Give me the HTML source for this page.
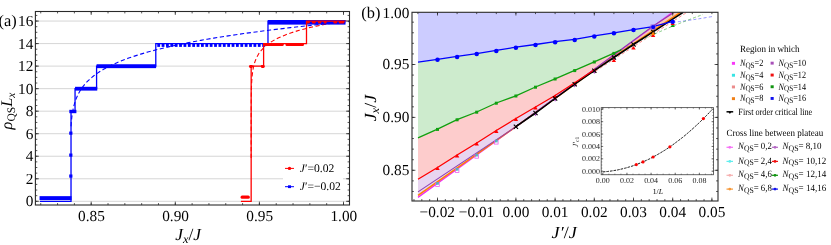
<!DOCTYPE html>
<html><head><meta charset="utf-8"><title>figure</title>
<style>domain{display:none}html,body{margin:0;padding:0;background:#fff;}body{width:831px;height:245px;overflow:hidden;font-family:"Liberation Serif",serif;}svg{position:absolute;left:0;top:0;display:block;will-change:transform;opacity:0.999}text{white-space:pre}</style>
</head><body>
<svg width="831" height="245" viewBox="0 0 831 245" text-rendering="geometricPrecision" font-family="'Liberation Serif', serif" fill="#000">
<line x1="35.4" x2="349.5" y1="201.30" y2="201.30" stroke="#d6d6d6" stroke-width="1"/>
<line x1="35.4" x2="349.5" y1="178.77" y2="178.77" stroke="#d6d6d6" stroke-width="1"/>
<line x1="35.4" x2="349.5" y1="156.24" y2="156.24" stroke="#d6d6d6" stroke-width="1"/>
<line x1="35.4" x2="349.5" y1="133.71" y2="133.71" stroke="#d6d6d6" stroke-width="1"/>
<line x1="35.4" x2="349.5" y1="111.18" y2="111.18" stroke="#d6d6d6" stroke-width="1"/>
<line x1="35.4" x2="349.5" y1="88.65" y2="88.65" stroke="#d6d6d6" stroke-width="1"/>
<line x1="35.4" x2="349.5" y1="66.12" y2="66.12" stroke="#d6d6d6" stroke-width="1"/>
<line x1="35.4" x2="349.5" y1="43.59" y2="43.59" stroke="#d6d6d6" stroke-width="1"/>
<line x1="35.4" x2="349.5" y1="21.06" y2="21.06" stroke="#d6d6d6" stroke-width="1"/>
<polyline fill="none" stroke="#0000ff" stroke-width="1.1" stroke-dasharray="4.2,2.6" points="71.02,126.31 71.02,126.31 71.02,126.31 71.02,126.31 71.02,126.31 71.02,126.31 71.02,126.31 71.02,126.31 71.02,126.31 71.02,126.31 71.02,126.31 71.02,126.31 71.02,126.31 71.02,126.31 71.02,126.31 71.02,126.30 71.02,126.30 71.02,126.30 71.02,126.30 71.02,126.30 71.02,126.30 71.02,126.30 71.02,126.30 71.02,126.30 71.02,126.30 71.02,126.30 71.02,126.30 71.02,126.30 71.02,126.30 71.02,126.30 71.02,126.30 71.02,126.30 71.02,126.30 71.02,126.30 71.02,126.30 71.02,126.30 71.02,126.30 71.02,126.29 71.02,126.29 71.02,126.29 71.02,126.29 71.02,126.29 71.02,126.29 71.02,126.29 71.02,126.29 71.02,126.29 71.02,126.29 71.02,126.28 71.02,126.28 71.02,126.28 71.02,126.28 71.02,126.28 71.02,126.28 71.02,126.28 71.02,126.27 71.02,126.27 71.02,126.27 71.02,126.27 71.02,126.27 71.02,126.27 71.02,126.26 71.02,126.26 71.02,126.26 71.02,126.26 71.02,126.25 71.02,126.25 71.02,126.25 71.02,126.24 71.02,126.24 71.02,126.24 71.02,126.23 71.02,126.23 71.02,126.23 71.02,126.22 71.02,126.22 71.02,126.21 71.02,126.21 71.02,126.20 71.02,126.20 71.02,126.19 71.02,126.19 71.02,126.18 71.02,126.18 71.02,126.17 71.03,126.16 71.03,126.15 71.03,126.15 71.03,126.14 71.03,126.13 71.03,126.12 71.03,126.11 71.03,126.10 71.03,126.09 71.03,126.08 71.03,126.07 71.03,126.06 71.03,126.05 71.03,126.03 71.03,126.02 71.03,126.01 71.04,125.99 71.04,125.98 71.04,125.96 71.04,125.94 71.04,125.93 71.04,125.91 71.04,125.89 71.04,125.87 71.05,125.85 71.05,125.83 71.05,125.80 71.05,125.78 71.05,125.75 71.05,125.73 71.05,125.70 71.06,125.67 71.06,125.64 71.06,125.61 71.06,125.57 71.07,125.54 71.07,125.50 71.07,125.46 71.07,125.42 71.08,125.38 71.08,125.34 71.08,125.29 71.08,125.24 71.09,125.19 71.09,125.14 71.10,125.09 71.10,125.03 71.10,124.97 71.11,124.91 71.11,124.84 71.12,124.78 71.12,124.71 71.13,124.63 71.13,124.56 71.14,124.48 71.14,124.39 71.15,124.31 71.16,124.21 71.16,124.12 71.17,124.02 71.18,123.92 71.19,123.81 71.19,123.70 71.20,123.59 71.21,123.47 71.22,123.34 71.23,123.22 71.24,123.08 71.25,122.94 71.27,122.80 71.28,122.65 71.29,122.49 71.30,122.33 71.32,122.16 71.33,121.99 71.35,121.81 71.36,121.63 71.38,121.44 71.40,121.24 71.42,121.03 71.44,120.82 71.46,120.60 71.48,120.38 71.50,120.15 71.53,119.91 71.55,119.66 71.58,119.41 71.61,119.14 71.63,118.87 71.66,118.60 71.70,118.31 71.73,118.02 71.76,117.72 71.80,117.41 71.84,117.09 71.88,116.77 71.92,116.44 71.97,116.09 72.01,115.74 72.06,115.39 72.11,115.02 72.17,114.65 72.22,114.26 72.28,113.87 72.34,113.47 72.41,113.07 72.48,112.65 72.55,112.23 72.62,111.79 72.70,111.35 72.78,110.90 72.87,110.45 72.96,109.98 73.06,109.51 73.16,109.03 73.26,108.54 73.37,108.04 73.49,107.53 73.61,107.02 73.73,106.50 73.87,105.97 74.00,105.43 74.15,104.88 74.30,104.33 74.47,103.77 74.63,103.20 74.81,102.62 75.00,102.04 75.19,101.45 75.39,100.85 75.61,100.24 75.83,99.63 76.07,99.01 76.32,98.38 76.58,97.74 76.85,97.10 77.13,96.45 77.43,95.79 77.74,95.13 78.07,94.46 78.42,93.78 78.78,93.09 79.16,92.40 79.56,91.70 79.98,90.99 80.41,90.28 80.87,89.56 81.36,88.83 81.86,88.10 82.39,87.36 82.95,86.61 83.53,85.85 84.14,85.09 84.78,84.32 85.46,83.55 86.16,82.77 86.90,81.98 87.68,81.18 88.50,80.38 89.35,79.57 90.25,78.75 91.19,77.93 92.17,77.10 93.21,76.26 94.29,75.42 95.43,74.57 96.62,73.71 97.88,72.85 99.19,71.98 100.57,71.10 102.01,70.22 103.53,69.33 105.12,68.43 106.78,67.52 108.53,66.61 110.37,65.69 112.29,64.76 114.31,63.83 116.42,62.89 118.64,61.94 120.97,60.99 123.42,60.03 125.98,59.06 128.66,58.08 131.48,57.10 134.44,56.11 137.54,55.11 140.79,54.10 144.20,53.09 147.78,52.07 151.54,51.04 155.47,50.01 159.60,48.96 163.93,47.91 168.47,46.86 173.24,45.79 178.24,44.72 183.48,43.64 188.98,42.55 194.75,41.45 200.79,40.35 207.14,39.24 213.79,38.12 220.78,36.99 228.10,35.85 235.78,34.71 243.83,33.55 252.28,32.39 261.14,31.22 270.44,30.05 280.19,28.86 290.42,27.67 301.14,26.47 312.39,25.26 324.19,24.04 336.57,22.81 349.56,21.57"/>
<polyline fill="none" stroke="#ff0000" stroke-width="1.1" stroke-dasharray="4.2,2.6" points="251.16,158.01 251.16,157.80 251.16,157.59 251.16,157.38 251.16,157.17 251.16,156.96 251.16,156.75 251.16,156.54 251.16,156.32 251.16,156.11 251.16,155.89 251.16,155.67 251.16,155.45 251.16,155.24 251.16,155.02 251.16,154.79 251.16,154.57 251.16,154.35 251.16,154.12 251.16,153.90 251.16,153.67 251.16,153.44 251.16,153.22 251.16,152.99 251.16,152.75 251.16,152.52 251.16,152.29 251.16,152.06 251.16,151.82 251.16,151.58 251.16,151.35 251.16,151.11 251.16,150.87 251.16,150.63 251.16,150.38 251.16,150.14 251.16,149.90 251.16,149.65 251.16,149.40 251.16,149.15 251.16,148.91 251.16,148.65 251.16,148.40 251.16,148.15 251.16,147.90 251.16,147.64 251.16,147.38 251.16,147.13 251.16,146.87 251.16,146.61 251.16,146.35 251.16,146.08 251.16,145.82 251.16,145.55 251.16,145.29 251.16,145.02 251.16,144.75 251.16,144.48 251.16,144.21 251.16,143.94 251.16,143.66 251.16,143.39 251.16,143.11 251.16,142.83 251.16,142.55 251.16,142.27 251.16,141.99 251.16,141.70 251.16,141.42 251.16,141.13 251.16,140.85 251.16,140.56 251.16,140.27 251.16,139.97 251.16,139.68 251.16,139.39 251.16,139.09 251.16,138.79 251.16,138.50 251.16,138.19 251.16,137.89 251.16,137.59 251.16,137.29 251.16,136.98 251.16,136.67 251.16,136.36 251.16,136.05 251.16,135.74 251.16,135.43 251.16,135.11 251.16,134.80 251.16,134.48 251.16,134.16 251.16,133.84 251.16,133.51 251.16,133.19 251.16,132.87 251.16,132.54 251.16,132.21 251.16,131.88 251.16,131.55 251.16,131.21 251.16,130.88 251.16,130.54 251.16,130.20 251.16,129.86 251.16,129.52 251.16,129.18 251.16,128.83 251.16,128.49 251.16,128.14 251.16,127.79 251.16,127.44 251.16,127.09 251.16,126.73 251.16,126.37 251.16,126.02 251.16,125.66 251.16,125.29 251.16,124.93 251.16,124.57 251.16,124.20 251.16,123.83 251.16,123.46 251.16,123.09 251.16,122.71 251.16,122.34 251.16,121.96 251.16,121.58 251.16,121.20 251.16,120.82 251.16,120.43 251.16,120.05 251.16,119.66 251.16,119.27 251.16,118.88 251.16,118.48 251.16,118.09 251.16,117.69 251.16,117.29 251.17,116.89 251.17,116.48 251.17,116.08 251.17,115.67 251.17,115.26 251.17,114.85 251.17,114.44 251.17,114.02 251.17,113.60 251.17,113.18 251.17,112.76 251.17,112.34 251.17,111.91 251.17,111.49 251.17,111.06 251.18,110.63 251.18,110.19 251.18,109.76 251.18,109.32 251.18,108.88 251.18,108.44 251.18,107.99 251.18,107.55 251.19,107.10 251.19,106.65 251.19,106.20 251.19,105.74 251.19,105.29 251.20,104.83 251.20,104.37 251.20,103.90 251.20,103.44 251.21,102.97 251.21,102.50 251.21,102.03 251.22,101.55 251.22,101.08 251.22,100.60 251.23,100.11 251.23,99.63 251.24,99.14 251.24,98.66 251.24,98.17 251.25,97.67 251.26,97.18 251.26,96.68 251.27,96.18 251.27,95.68 251.28,95.17 251.29,94.66 251.30,94.15 251.31,93.64 251.32,93.13 251.33,92.61 251.34,92.09 251.35,91.57 251.36,91.04 251.37,90.52 251.38,89.99 251.40,89.46 251.41,88.92 251.43,88.38 251.44,87.84 251.46,87.30 251.48,86.76 251.50,86.21 251.52,85.66 251.54,85.11 251.57,84.55 251.59,83.99 251.62,83.43 251.65,82.87 251.68,82.30 251.71,81.73 251.74,81.16 251.78,80.59 251.82,80.01 251.86,79.43 251.90,78.85 251.94,78.26 251.99,77.67 252.04,77.08 252.10,76.49 252.16,75.89 252.22,75.29 252.28,74.69 252.35,74.09 252.43,73.48 252.50,72.87 252.59,72.25 252.67,71.64 252.77,71.02 252.87,70.39 252.97,69.77 253.08,69.14 253.20,68.51 253.33,67.87 253.46,67.23 253.60,66.59 253.75,65.95 253.91,65.30 254.08,64.65 254.26,64.00 254.45,63.34 254.65,62.68 254.87,62.02 255.09,61.35 255.33,60.68 255.59,60.01 255.86,59.34 256.15,58.66 256.46,57.98 256.78,57.29 257.13,56.60 257.50,55.91 257.89,55.22 258.30,54.52 258.74,53.82 259.20,53.11 259.70,52.40 260.22,51.69 260.78,50.98 261.37,50.26 262.00,49.53 262.66,48.81 263.37,48.08 264.12,47.35 264.92,46.61 265.76,45.87 266.66,45.13 267.61,44.38 268.62,43.63 269.70,42.88 270.83,42.12 272.04,41.36 273.33,40.60 274.69,39.83 276.13,39.06 277.67,38.28 279.30,37.50 281.02,36.72 282.86,35.93 284.81,35.14 286.87,34.35 289.07,33.55 291.40,32.75 293.87,31.94 296.49,31.13 299.27,30.32 302.23,29.50 305.37,28.68 308.70,27.85 312.23,27.02 315.98,26.19 319.97,25.35 324.19,24.51 328.68,23.67 333.44,22.82 338.50,21.96 343.86,21.11 349.56,20.25"/>
<polyline fill="none" stroke="#0000ff" stroke-width="1.3" points="39.90,201.30 71.02,201.30 71.02,111.18 75.05,111.18 75.05,88.65 96.58,88.65 96.58,66.12 155.79,66.12 155.79,43.59 267.98,43.59 267.98,21.06 344.85,21.06"/>
<rect x="39.56" y="196.15" width="31.96" height="3.9" rx="0" fill="#0000ff"/>
<rect x="69.33" y="109.80" width="7.06" height="3.4" rx="0" fill="#0000ff"/>
<rect x="75.05" y="86.80" width="22.20" height="3.8" rx="0" fill="#0000ff"/>
<rect x="96.58" y="64.25" width="59.54" height="3.9" rx="0" fill="#0000ff"/>
<rect x="267.98" y="20.00" width="77.54" height="4.6" rx="0" fill="#0000ff"/>
<rect x="157.27" y="43.19" width="2.8" height="3.7" fill="#0000ff"/>
<rect x="161.64" y="43.19" width="2.8" height="3.7" fill="#0000ff"/>
<rect x="166.01" y="43.19" width="2.8" height="3.7" fill="#0000ff"/>
<rect x="170.39" y="43.19" width="2.8" height="3.7" fill="#0000ff"/>
<rect x="174.76" y="43.19" width="2.8" height="3.7" fill="#0000ff"/>
<rect x="179.13" y="43.19" width="2.8" height="3.7" fill="#0000ff"/>
<rect x="183.51" y="43.19" width="2.8" height="3.7" fill="#0000ff"/>
<rect x="187.88" y="43.19" width="2.8" height="3.7" fill="#0000ff"/>
<rect x="192.25" y="43.19" width="2.8" height="3.7" fill="#0000ff"/>
<rect x="196.63" y="43.19" width="2.8" height="3.7" fill="#0000ff"/>
<rect x="201.00" y="43.19" width="2.8" height="3.7" fill="#0000ff"/>
<rect x="205.37" y="43.19" width="2.8" height="3.7" fill="#0000ff"/>
<rect x="209.74" y="43.19" width="2.8" height="3.7" fill="#0000ff"/>
<rect x="214.12" y="43.19" width="2.8" height="3.7" fill="#0000ff"/>
<rect x="218.49" y="43.19" width="2.8" height="3.7" fill="#0000ff"/>
<rect x="222.86" y="43.19" width="2.8" height="3.7" fill="#0000ff"/>
<rect x="227.24" y="43.19" width="2.8" height="3.7" fill="#0000ff"/>
<rect x="231.61" y="43.19" width="2.8" height="3.7" fill="#0000ff"/>
<rect x="235.98" y="43.19" width="2.8" height="3.7" fill="#0000ff"/>
<rect x="240.36" y="43.19" width="2.8" height="3.7" fill="#0000ff"/>
<rect x="244.73" y="43.19" width="2.8" height="3.7" fill="#0000ff"/>
<rect x="249.10" y="43.19" width="2.8" height="3.7" fill="#0000ff"/>
<rect x="253.48" y="43.19" width="2.8" height="3.7" fill="#0000ff"/>
<rect x="257.85" y="43.19" width="2.8" height="3.7" fill="#0000ff"/>
<rect x="262.22" y="43.19" width="2.8" height="3.7" fill="#0000ff"/>
<rect x="69.22" y="174.47" width="3.2" height="3.2" fill="#0000ff"/>
<rect x="69.22" y="153.51" width="3.2" height="3.2" fill="#0000ff"/>
<rect x="69.22" y="131.55" width="3.2" height="3.2" fill="#0000ff"/>
<polyline fill="none" stroke="#ff0000" stroke-width="1.3" points="240.90,201.30 251.16,201.30 251.16,66.12 263.61,66.12 263.61,43.59 306.50,43.59 306.50,21.06 344.85,21.06"/>
<rect x="240.56" y="195.50" width="9.25" height="3.2" rx="1.5" fill="#ff0000"/>
<rect x="248.97" y="65.10" width="4.04" height="2.8" rx="1.3" fill="#ff0000"/>
<rect x="260.75" y="65.10" width="4.04" height="2.8" rx="1.3" fill="#ff0000"/>
<rect x="263.61" y="42.90" width="20.18" height="3.2" rx="1.4" fill="#ff0000"/>
<rect x="285.47" y="43.20" width="18.50" height="2.8" rx="1.2" fill="#ff0000"/>
<rect x="306.50" y="20.90" width="3.36" height="2.6" rx="1.2" fill="#ff0000"/>
<rect x="311.88" y="20.90" width="3.87" height="2.6" rx="1.2" fill="#ff0000"/>
<rect x="317.93" y="20.90" width="3.36" height="2.6" rx="1.2" fill="#ff0000"/>
<rect x="323.65" y="20.90" width="3.03" height="2.6" rx="1.2" fill="#ff0000"/>
<rect x="333.41" y="20.90" width="3.70" height="2.6" rx="1.2" fill="#ff0000"/>
<rect x="338.79" y="20.90" width="5.55" height="2.6" rx="1.2" fill="#ff0000"/>
<rect x="283" y="159" width="60" height="38" fill="#fff"/>
<line x1="285" x2="294" y1="168.4" y2="168.4" stroke="#ff0000" stroke-width="1"/><circle cx="289.5" cy="168.4" r="1.7" fill="#ff0000"/>
<line x1="285" x2="294" y1="186.7" y2="186.7" stroke="#0000ff" stroke-width="1"/><rect x="288" y="185.3" width="3" height="2.8" fill="#0000ff"/>
<text transform="translate(299.8,172)" font-size="11.6" stroke-width="0.0" text-anchor="start" fill="#000" ><tspan font-style="italic">J</tspan>′=0.02</text>
<text transform="translate(299.8,190.4)" font-size="11.6" stroke-width="0.0" text-anchor="start" fill="#000" ><tspan font-style="italic">J</tspan>′=−0.02</text>
<rect x="35.4" y="11.5" width="314.1" height="193.5" fill="none" stroke="#2a2a2a" stroke-width="1.1"/>
<path d="M91.20,205.0v-3.4M91.20,11.5v3.4M175.30,205.0v-3.4M175.30,11.5v3.4M259.40,205.0v-3.4M259.40,11.5v3.4M343.50,205.0v-3.4M343.50,11.5v3.4" stroke="#2a2a2a" stroke-width="0.8" fill="none"/>
<path d="M40.74,205.0v-1.9M40.74,11.5v1.9M57.56,205.0v-1.9M57.56,11.5v1.9M74.38,205.0v-1.9M74.38,11.5v1.9M91.20,205.0v-1.9M91.20,11.5v1.9M108.02,205.0v-1.9M108.02,11.5v1.9M124.84,205.0v-1.9M124.84,11.5v1.9M141.66,205.0v-1.9M141.66,11.5v1.9M158.48,205.0v-1.9M158.48,11.5v1.9M175.30,205.0v-1.9M175.30,11.5v1.9M192.12,205.0v-1.9M192.12,11.5v1.9M208.94,205.0v-1.9M208.94,11.5v1.9M225.76,205.0v-1.9M225.76,11.5v1.9M242.58,205.0v-1.9M242.58,11.5v1.9M259.40,205.0v-1.9M259.40,11.5v1.9M276.22,205.0v-1.9M276.22,11.5v1.9M293.04,205.0v-1.9M293.04,11.5v1.9M309.86,205.0v-1.9M309.86,11.5v1.9M326.68,205.0v-1.9M326.68,11.5v1.9M343.50,205.0v-1.9M343.50,11.5v1.9" stroke="#2a2a2a" stroke-width="0.8" fill="none"/>
<path d="M35.4,201.30h3.4M349.5,201.30h-3.4M35.4,178.77h3.4M349.5,178.77h-3.4M35.4,156.24h3.4M349.5,156.24h-3.4M35.4,133.71h3.4M349.5,133.71h-3.4M35.4,111.18h3.4M349.5,111.18h-3.4M35.4,88.65h3.4M349.5,88.65h-3.4M35.4,66.12h3.4M349.5,66.12h-3.4M35.4,43.59h3.4M349.5,43.59h-3.4M35.4,21.06h3.4M349.5,21.06h-3.4" stroke="#2a2a2a" stroke-width="0.8" fill="none"/>
<path d="M35.4,201.30h1.9M349.5,201.30h-1.9M35.4,195.67h1.9M349.5,195.67h-1.9M35.4,190.04h1.9M349.5,190.04h-1.9M35.4,184.40h1.9M349.5,184.40h-1.9M35.4,178.77h1.9M349.5,178.77h-1.9M35.4,173.14h1.9M349.5,173.14h-1.9M35.4,167.50h1.9M349.5,167.50h-1.9M35.4,161.87h1.9M349.5,161.87h-1.9M35.4,156.24h1.9M349.5,156.24h-1.9M35.4,150.61h1.9M349.5,150.61h-1.9M35.4,144.98h1.9M349.5,144.98h-1.9M35.4,139.34h1.9M349.5,139.34h-1.9M35.4,133.71h1.9M349.5,133.71h-1.9M35.4,128.08h1.9M349.5,128.08h-1.9M35.4,122.45h1.9M349.5,122.45h-1.9M35.4,116.81h1.9M349.5,116.81h-1.9M35.4,111.18h1.9M349.5,111.18h-1.9M35.4,105.55h1.9M349.5,105.55h-1.9M35.4,99.92h1.9M349.5,99.92h-1.9M35.4,94.28h1.9M349.5,94.28h-1.9M35.4,88.65h1.9M349.5,88.65h-1.9M35.4,83.02h1.9M349.5,83.02h-1.9M35.4,77.39h1.9M349.5,77.39h-1.9M35.4,71.75h1.9M349.5,71.75h-1.9M35.4,66.12h1.9M349.5,66.12h-1.9M35.4,60.49h1.9M349.5,60.49h-1.9M35.4,54.86h1.9M349.5,54.86h-1.9M35.4,49.22h1.9M349.5,49.22h-1.9M35.4,43.59h1.9M349.5,43.59h-1.9M35.4,37.96h1.9M349.5,37.96h-1.9M35.4,32.32h1.9M349.5,32.32h-1.9M35.4,26.69h1.9M349.5,26.69h-1.9M35.4,21.06h1.9M349.5,21.06h-1.9M35.4,15.43h1.9M349.5,15.43h-1.9" stroke="#2a2a2a" stroke-width="0.8" fill="none"/>
<text transform="translate(33.3,206.30)" font-size="15.3" stroke-width="0.0" text-anchor="end" fill="#000" >0</text>
<text transform="translate(33.3,183.77)" font-size="15.3" stroke-width="0.0" text-anchor="end" fill="#000" >2</text>
<text transform="translate(33.3,161.24)" font-size="15.3" stroke-width="0.0" text-anchor="end" fill="#000" >4</text>
<text transform="translate(33.3,138.71)" font-size="15.3" stroke-width="0.0" text-anchor="end" fill="#000" >6</text>
<text transform="translate(33.3,116.18)" font-size="15.3" stroke-width="0.0" text-anchor="end" fill="#000" >8</text>
<text transform="translate(33.3,93.65)" font-size="15.3" stroke-width="0.0" text-anchor="end" fill="#000" >10</text>
<text transform="translate(33.3,71.12)" font-size="15.3" stroke-width="0.0" text-anchor="end" fill="#000" >12</text>
<text transform="translate(33.3,48.59)" font-size="15.3" stroke-width="0.0" text-anchor="end" fill="#000" >14</text>
<text transform="translate(33.3,26.06)" font-size="15.3" stroke-width="0.0" text-anchor="end" fill="#000" >16</text>
<text transform="translate(91.50,220.9)" font-size="15.3" stroke-width="0.0" text-anchor="middle" fill="#000" >0.85</text>
<text transform="translate(175.60,220.9)" font-size="15.3" stroke-width="0.0" text-anchor="middle" fill="#000" >0.90</text>
<text transform="translate(259.70,220.9)" font-size="15.3" stroke-width="0.0" text-anchor="middle" fill="#000" >0.95</text>
<text transform="translate(343.80,220.9)" font-size="15.3" stroke-width="0.0" text-anchor="middle" fill="#000" >1.00</text>
<text transform="translate(-1.5,25.6)" font-size="16.4" stroke-width="0.0" text-anchor="start" fill="#000" >(a)</text>
<text transform="translate(175.2,240.4) scale(1.03,1)" font-size="17" stroke-width="0.0" text-anchor="start" font-style="italic" fill="#000" >J<tspan font-size="12" dy="2.6">x</tspan><tspan dy="-2.6" font-style="normal">/</tspan>J</text>
<text transform="translate(11.8,129.4) rotate(-90)" font-size="16.3" stroke-width="0.0" text-anchor="start" font-style="italic" fill="#000" >ρ<tspan font-size="11.5" dy="3" font-style="normal">QS</tspan><tspan dy="-3">L</tspan><tspan font-size="11.5" dy="3">x</tspan></text>
<clipPath id="cr"><rect x="412.0" y="12.3" width="306.0" height="188.7"/></clipPath>
<g clip-path="url(#cr)">
<polygon fill="#ccccff" points="672.5,12.3 418.0,12.3 418.0,62.1 437.5,59.3 457.1,56.4 476.7,53.6 496.3,50.4 515.9,47.2 535.5,44.5 555.1,41.7 574.7,39.4 594.3,35.9 613.9,32.8 633.5,29.6 653.1,26.6"/>
<polygon fill="#cdebcd" points="418.0,62.1 437.5,59.3 457.1,56.4 476.7,53.6 496.3,50.4 515.9,47.2 535.5,44.5 555.1,41.7 574.7,39.4 594.3,35.9 613.9,32.8 633.5,29.6 653.1,26.6 621.5,49.6 613.9,53.2 594.3,61.8 574.7,70.4 555.1,78.8 535.5,87.0 515.9,95.8 496.3,103.0 476.7,112.0 457.1,119.6 437.5,129.2 418.0,137.8"/>
<polygon fill="#fdcccc" points="418.0,137.8 437.5,129.2 457.1,119.6 476.7,112.0 496.3,103.0 515.9,95.8 535.5,87.0 555.1,78.8 574.7,70.4 594.3,61.8 613.9,53.2 621.5,49.6 594.3,69.4 594.3,69.8 574.7,82.8 555.1,95.5 535.5,107.0 515.9,118.5 496.3,130.5 476.7,143.0 457.1,155.0 437.5,167.5 418.0,179.3"/>
<polygon fill="#e8d5f0" points="418.0,179.3 437.5,167.5 457.1,155.0 476.7,143.0 496.3,130.5 515.9,118.5 535.5,107.0 555.1,95.5 574.7,82.8 594.3,69.8 515.9,126.7 418.0,197.4"/>
<polygon fill="#f6c8bc" points="515.9,126.7 672.5,12.3 683.2,12.3 672.7,19.2 653.1,31.8 633.5,44.5 613.9,57.5 594.3,70.7 574.7,84.2 555.1,98.5 535.5,113.0 515.9,126.7"/>
<path d="M673,22.3 Q690,20.5 713,16.4" fill="none" stroke="#5050ff" stroke-width="0.6" stroke-dasharray="3,2.2"/>
<path d="M621.5,49.6 Q665,28 703,14.5" fill="none" stroke="#30a830" stroke-width="0.6" stroke-dasharray="3,2.2"/>
<path d="M595.8,70.9 L687,12.3" fill="none" stroke="#ff4040" stroke-width="0.6" stroke-dasharray="3,2.2"/>
<polyline fill="none" stroke="#f030f0" stroke-width="1.3" points="418.0,197.4 515.9,126.7 672.5,12.3"/>
<polyline fill="none" stroke="#ff8000" stroke-width="1.5" points="418.0,195.3 515.9,126.7 594.3,70.2 633.5,43.6 653.1,30.6 680.5,12.3"/>
<polyline fill="none" stroke="#9040b0" stroke-width="1.1" points="418.0,191.9 515.9,126.7 594.3,69.2 653.1,26.0 674.3,12.3"/>
<polyline fill="none" stroke="#000" stroke-width="1.55" points="515.9,126.7 535.5,113.0 555.1,98.5 574.7,84.2 594.3,70.7 613.9,57.5 633.5,44.5 653.1,31.8 672.7,19.2 683.2,12.3"/>
<polyline fill="none" stroke="#ff0000" stroke-width="1.3" points="418.0,179.3 437.5,167.5 457.1,155.0 476.7,143.0 496.3,130.5 515.9,118.5 535.5,107.0 555.1,95.5 574.7,82.8 594.3,69.8"/>
<polyline fill="none" stroke="#10a010" stroke-width="1.3" points="418.0,137.8 437.5,129.2 457.1,119.6 476.7,112.0 496.3,103.0 515.9,95.8 535.5,87.0 555.1,78.8 574.7,70.4 594.3,61.8 613.9,53.2 621.5,49.6"/>
<polyline fill="none" stroke="#0000ff" stroke-width="1.3" points="418.0,62.1 437.5,59.3 457.1,56.4 476.7,53.6 496.3,50.4 515.9,47.2 535.5,44.5 555.1,41.7 574.7,39.4 594.3,35.9 613.9,32.8 633.5,29.6 653.1,26.6 672.7,21.3"/>
<rect x="436.0" y="127.89999999999999" width="3" height="3" fill="#10a010"/>
<rect x="455.6" y="118.3" width="3" height="3" fill="#10a010"/>
<rect x="475.2" y="110.7" width="3" height="3" fill="#10a010"/>
<rect x="494.8" y="101.7" width="3" height="3" fill="#10a010"/>
<rect x="514.4" y="94.5" width="3" height="3" fill="#10a010"/>
<rect x="534.0" y="85.7" width="3" height="3" fill="#10a010"/>
<rect x="553.6" y="77.5" width="3" height="3" fill="#10a010"/>
<rect x="573.2" y="69.10000000000001" width="3" height="3" fill="#10a010"/>
<rect x="592.8" y="60.5" width="3" height="3" fill="#10a010"/>
<rect x="612.4" y="51.900000000000006" width="3" height="3" fill="#10a010"/>
<path d="M437.5,166.3l2.2,3.6h-4.4z" fill="#ff0000"/>
<path d="M457.1,153.8l2.2,3.6h-4.4z" fill="#ff0000"/>
<path d="M476.7,141.8l2.2,3.6h-4.4z" fill="#ff0000"/>
<path d="M496.3,129.3l2.2,3.6h-4.4z" fill="#ff0000"/>
<path d="M515.9,117.3l2.2,3.6h-4.4z" fill="#ff0000"/>
<path d="M535.5,105.8l2.2,3.6h-4.4z" fill="#ff0000"/>
<path d="M555.1,94.3l2.2,3.6h-4.4z" fill="#ff0000"/>
<path d="M574.7,81.6l2.2,3.6h-4.4z" fill="#ff0000"/>
<path d="M594.3,68.6l2.2,3.6h-4.4z" fill="#ff0000"/>
<path d="M533.7,113.6h3.6l-1.8,2.6z" fill="#b050c8"/>
<path d="M553.3000000000001,99.1h3.6l-1.8,2.6z" fill="#b050c8"/>
<path d="M572.9000000000001,84.8h3.6l-1.8,2.6z" fill="#b050c8"/>
<path d="M592.5,71.3h3.6l-1.8,2.6z" fill="#b050c8"/>
<path d="M612.1,58.1h3.6l-1.8,2.6z" fill="#b050c8"/>
<path d="M513.8,124.60000000000001l4.2,4.2M513.8,128.8l4.2,-4.2" stroke="#000" stroke-width="1.15" fill="none"/>
<path d="M533.4,110.9l4.2,4.2M533.4,115.1l4.2,-4.2" stroke="#000" stroke-width="1.15" fill="none"/>
<path d="M553.0,96.4l4.2,4.2M553.0,100.6l4.2,-4.2" stroke="#000" stroke-width="1.15" fill="none"/>
<path d="M572.6,82.10000000000001l4.2,4.2M572.6,86.3l4.2,-4.2" stroke="#000" stroke-width="1.15" fill="none"/>
<path d="M592.1999999999999,68.60000000000001l4.2,4.2M592.1999999999999,72.8l4.2,-4.2" stroke="#000" stroke-width="1.15" fill="none"/>
<path d="M611.8,55.4l4.2,4.2M611.8,59.6l4.2,-4.2" stroke="#000" stroke-width="1.15" fill="none"/>
<path d="M631.4,42.4l4.2,4.2M631.4,46.6l4.2,-4.2" stroke="#000" stroke-width="1.15" fill="none"/>
<path d="M651.0,29.7l4.2,4.2M651.0,33.9l4.2,-4.2" stroke="#000" stroke-width="1.15" fill="none"/>
<rect x="435.7" y="182.9" width="3.6" height="3.6" fill="none" stroke="#ee60ee" stroke-width="0.8"/>
<rect x="436.1" y="182.0" width="2.8" height="2.8" fill="#40bcbc" opacity="0.85"/>
<rect x="455.3" y="168.8" width="3.6" height="3.6" fill="none" stroke="#ee60ee" stroke-width="0.8"/>
<rect x="455.70000000000005" y="167.9" width="2.8" height="2.8" fill="#40bcbc" opacity="0.85"/>
<rect x="474.9" y="154.6" width="3.6" height="3.6" fill="none" stroke="#ee60ee" stroke-width="0.8"/>
<rect x="475.3" y="153.7" width="2.8" height="2.8" fill="#40bcbc" opacity="0.85"/>
<rect x="494.5" y="140.5" width="3.6" height="3.6" fill="none" stroke="#ee60ee" stroke-width="0.8"/>
<rect x="494.90000000000003" y="139.6" width="2.8" height="2.8" fill="#40bcbc" opacity="0.85"/>
<path d="M613.9,58.5l2.2,3.5h-4.4z" fill="#ff0000"/>
<path d="M633.5,45.9l2.2,3.5h-4.4z" fill="#ff0000"/>
<path d="M653.1,33.5l2.2,3.5h-4.4z" fill="#ff0000"/>
<path d="M653.1,31.500000000000004l2.2,3.5h-4.4z" fill="#ff8000"/>
<path d="M672.7,23.6l2.2,3.5h-4.4z" fill="#10a010"/>
<path d="M672.7,21.5l2.2,3.5h-4.4z" fill="#ff0000"/>
<circle cx="437.5" cy="59.8" r="2.25" fill="#0000ff"/>
<circle cx="457.1" cy="56.9" r="2.25" fill="#0000ff"/>
<circle cx="476.7" cy="54.1" r="2.25" fill="#0000ff"/>
<circle cx="496.3" cy="50.9" r="2.25" fill="#0000ff"/>
<circle cx="515.9" cy="47.7" r="2.25" fill="#0000ff"/>
<circle cx="535.5" cy="45.0" r="2.25" fill="#0000ff"/>
<circle cx="555.1" cy="42.2" r="2.25" fill="#0000ff"/>
<circle cx="574.7" cy="39.9" r="2.25" fill="#0000ff"/>
<circle cx="594.3" cy="36.4" r="2.25" fill="#0000ff"/>
<circle cx="613.9" cy="33.3" r="2.25" fill="#0000ff"/>
<circle cx="633.5" cy="30.1" r="2.25" fill="#0000ff"/>
<circle cx="653.1" cy="27.1" r="2.25" fill="#0000ff"/>
<circle cx="672.7" cy="21.8" r="2.25" fill="#0000ff"/>
<rect x="650.9" y="24.9" width="4.4" height="4.4" fill="none" stroke="#a060d0" stroke-width="0.7"/>
</g>
<rect x="572" y="100" width="145" height="98" fill="#fff"/>
<polyline fill="none" stroke="#000" stroke-width="0.9" stroke-dasharray="2.6,1" points="602.8,171.9 604.0,171.8 605.2,171.7 606.4,171.6 607.6,171.5 608.8,171.3 610.0,171.2 611.2,171.0 612.5,170.8 613.7,170.6 614.9,170.4 616.1,170.2 617.3,170.0 618.5,169.7 619.7,169.5 620.9,169.2 622.1,168.9 623.3,168.6 624.5,168.3 625.7,168.0 626.9,167.7 628.1,167.3 629.4,166.9 630.6,166.6 631.8,166.2 633.0,165.8 634.2,165.3 635.4,164.9 636.6,164.5 637.8,164.0 639.0,163.5 640.2,163.0 641.4,162.5 642.6,162.0 643.8,161.5 645.0,161.0 646.3,160.4 647.5,159.8 648.7,159.3 649.9,158.7 651.1,158.0 652.3,157.4 653.5,156.8 654.7,156.1 655.9,155.5 657.1,154.8 658.3,154.1 659.5,153.4 660.7,152.7 661.9,152.0 663.1,151.2 664.4,150.5 665.6,149.7 666.8,148.9 668.0,148.1 669.2,147.3 670.4,146.5 671.6,145.6 672.8,144.8 674.0,143.9 675.2,143.0 676.4,142.1 677.6,141.2 678.8,140.3 680.0,139.4 681.3,138.4 682.5,137.5 683.7,136.5 684.9,135.5 686.1,134.5 687.3,133.5 688.5,132.4 689.7,131.4 690.9,130.3 692.1,129.3 693.3,128.2 694.5,127.1 695.7,126.0 696.9,124.9 698.2,123.7 699.4,122.6 700.6,121.4 701.8,120.2 703.0,119.0 704.2,117.8 705.4,116.6 706.6,115.4 707.8,114.1 709.0,112.9 710.2,111.6 711.4,110.3"/>
<circle cx="636.3" cy="164.6" r="1.6" fill="#ff0000"/>
<circle cx="643.0" cy="161.9" r="1.6" fill="#ff0000"/>
<circle cx="653.1" cy="157.0" r="1.6" fill="#ff0000"/>
<circle cx="669.9" cy="146.8" r="1.6" fill="#ff0000"/>
<circle cx="703.4" cy="118.6" r="1.6" fill="#ff0000"/>
<rect x="601.2" y="107.6" width="112.29999999999995" height="67.1" fill="none" stroke="#555" stroke-width="0.9"/>
<path d="M602.80,174.7v-2M602.80,107.6v2M626.94,174.7v-2M626.94,107.6v2M651.08,174.7v-2M651.08,107.6v2M675.22,174.7v-2M675.22,107.6v2M699.36,174.7v-2M699.36,107.6v2" stroke="#2a2a2a" stroke-width="0.6" fill="none"/>
<path d="M602.80,174.7v-1.1M602.80,107.6v1.1M608.83,174.7v-1.1M608.83,107.6v1.1M614.87,174.7v-1.1M614.87,107.6v1.1M620.90,174.7v-1.1M620.90,107.6v1.1M626.94,174.7v-1.1M626.94,107.6v1.1M632.97,174.7v-1.1M632.97,107.6v1.1M639.01,174.7v-1.1M639.01,107.6v1.1M645.04,174.7v-1.1M645.04,107.6v1.1M651.08,174.7v-1.1M651.08,107.6v1.1M657.12,174.7v-1.1M657.12,107.6v1.1M663.15,174.7v-1.1M663.15,107.6v1.1M669.18,174.7v-1.1M669.18,107.6v1.1M675.22,174.7v-1.1M675.22,107.6v1.1M681.25,174.7v-1.1M681.25,107.6v1.1M687.29,174.7v-1.1M687.29,107.6v1.1M693.32,174.7v-1.1M693.32,107.6v1.1M699.36,174.7v-1.1M699.36,107.6v1.1M705.39,174.7v-1.1M705.39,107.6v1.1M711.43,174.7v-1.1M711.43,107.6v1.1" stroke="#2a2a2a" stroke-width="0.5" fill="none"/>
<path d="M601.2,171.20h2M713.5,171.20h-2M601.2,158.82h2M713.5,158.82h-2M601.2,146.44h2M713.5,146.44h-2M601.2,134.06h2M713.5,134.06h-2M601.2,121.68h2M713.5,121.68h-2M601.2,109.30h2M713.5,109.30h-2" stroke="#2a2a2a" stroke-width="0.6" fill="none"/>
<path d="M601.2,171.20h1.1M713.5,171.20h-1.1M601.2,168.10h1.1M713.5,168.10h-1.1M601.2,165.01h1.1M713.5,165.01h-1.1M601.2,161.91h1.1M713.5,161.91h-1.1M601.2,158.82h1.1M713.5,158.82h-1.1M601.2,155.72h1.1M713.5,155.72h-1.1M601.2,152.63h1.1M713.5,152.63h-1.1M601.2,149.53h1.1M713.5,149.53h-1.1M601.2,146.44h1.1M713.5,146.44h-1.1M601.2,143.34h1.1M713.5,143.34h-1.1M601.2,140.25h1.1M713.5,140.25h-1.1M601.2,137.16h1.1M713.5,137.16h-1.1M601.2,134.06h1.1M713.5,134.06h-1.1M601.2,130.96h1.1M713.5,130.96h-1.1M601.2,127.87h1.1M713.5,127.87h-1.1M601.2,124.77h1.1M713.5,124.77h-1.1M601.2,121.68h1.1M713.5,121.68h-1.1M601.2,118.58h1.1M713.5,118.58h-1.1M601.2,115.49h1.1M713.5,115.49h-1.1M601.2,112.39h1.1M713.5,112.39h-1.1M601.2,109.30h1.1M713.5,109.30h-1.1" stroke="#2a2a2a" stroke-width="0.5" fill="none"/>
<text transform="translate(599.9,173.8) scale(1.05,1)" font-size="7.6" stroke-width="0.0" text-anchor="end" fill="#222" >0.000</text>
<text transform="translate(599.9,161.4) scale(1.05,1)" font-size="7.6" stroke-width="0.0" text-anchor="end" fill="#222" >0.002</text>
<text transform="translate(599.9,149.0) scale(1.05,1)" font-size="7.6" stroke-width="0.0" text-anchor="end" fill="#222" >0.004</text>
<text transform="translate(599.9,136.7) scale(1.05,1)" font-size="7.6" stroke-width="0.0" text-anchor="end" fill="#222" >0.006</text>
<text transform="translate(599.9,124.3) scale(1.05,1)" font-size="7.6" stroke-width="0.0" text-anchor="end" fill="#222" >0.008</text>
<text transform="translate(599.9,111.9) scale(1.05,1)" font-size="7.6" stroke-width="0.0" text-anchor="end" fill="#222" >0.010</text>
<text transform="translate(602.8,183.4) scale(1.05,1)" font-size="7.6" stroke-width="0.0" text-anchor="middle" fill="#222" >0.00</text>
<text transform="translate(626.9,183.4) scale(1.05,1)" font-size="7.6" stroke-width="0.0" text-anchor="middle" fill="#222" >0.02</text>
<text transform="translate(651.1,183.4) scale(1.05,1)" font-size="7.6" stroke-width="0.0" text-anchor="middle" fill="#222" >0.04</text>
<text transform="translate(675.2,183.4) scale(1.05,1)" font-size="7.6" stroke-width="0.0" text-anchor="middle" fill="#222" >0.06</text>
<text transform="translate(699.4,183.4) scale(1.05,1)" font-size="7.6" stroke-width="0.0" text-anchor="middle" fill="#222" >0.08</text>
<text transform="translate(657.8,194)" font-size="7.6" stroke-width="0.0" text-anchor="middle" fill="#000" >1/<tspan font-style="italic">L</tspan></text>
<text transform="translate(577.6,147.2) rotate(-90)" font-size="7.8" stroke-width="0.0" text-anchor="start" font-style="italic" fill="#222" >J′<tspan font-size="5.5" dy="1.5" font-style="normal">c1</tspan></text>
<rect x="412.0" y="12.3" width="306.0" height="188.7" fill="none" stroke="#2a2a2a" stroke-width="1.1"/>
<path d="M437.50,201.0v-3.4M476.70,201.0v-3.4M515.90,201.0v-3.4M555.10,201.0v-3.4M594.30,201.0v-3.4M633.50,201.0v-3.4M672.70,201.0v-3.4M711.90,201.0v-3.4" stroke="#2a2a2a" stroke-width="0.8" fill="none"/>
<path d="M413.98,201.0v-1.9M421.82,201.0v-1.9M429.66,201.0v-1.9M437.50,201.0v-1.9M445.34,201.0v-1.9M453.18,201.0v-1.9M461.02,201.0v-1.9M468.86,201.0v-1.9M476.70,201.0v-1.9M484.54,201.0v-1.9M492.38,201.0v-1.9M500.22,201.0v-1.9M508.06,201.0v-1.9M515.90,201.0v-1.9M523.74,201.0v-1.9M531.58,201.0v-1.9M539.42,201.0v-1.9M547.26,201.0v-1.9M555.10,201.0v-1.9M562.94,201.0v-1.9M570.78,201.0v-1.9M578.62,201.0v-1.9M586.46,201.0v-1.9M594.30,201.0v-1.9M602.14,201.0v-1.9M609.98,201.0v-1.9M617.82,201.0v-1.9M625.66,201.0v-1.9M633.50,201.0v-1.9M641.34,201.0v-1.9M649.18,201.0v-1.9M657.02,201.0v-1.9M664.86,201.0v-1.9M672.70,201.0v-1.9M680.54,201.0v-1.9M688.38,201.0v-1.9M696.22,201.0v-1.9M704.06,201.0v-1.9M711.90,201.0v-1.9" stroke="#2a2a2a" stroke-width="0.8" fill="none"/>
<path d="M437.50,12.3v3.2M515.90,12.3v3.2M594.30,12.3v3.2M672.70,12.3v3.2" stroke="#2a2a2a" stroke-width="0.8" fill="none"/>
<path d="M417.90,12.3v1.8M437.50,12.3v1.8M457.10,12.3v1.8M476.70,12.3v1.8M496.30,12.3v1.8M515.90,12.3v1.8M535.50,12.3v1.8M555.10,12.3v1.8M574.70,12.3v1.8M594.30,12.3v1.8M613.90,12.3v1.8M633.50,12.3v1.8M653.10,12.3v1.8M672.70,12.3v1.8M692.30,12.3v1.8M711.90,12.3v1.8" stroke="#2a2a2a" stroke-width="0.8" fill="none"/>
<path d="M412.0,170.30h3.4M718.0,170.30h-3.4M412.0,117.40h3.4M718.0,117.40h-3.4M412.0,64.50h3.4M718.0,64.50h-3.4" stroke="#2a2a2a" stroke-width="0.8" fill="none"/>
<path d="M412.0,191.46h1.9M718.0,191.46h-1.9M412.0,180.88h1.9M718.0,180.88h-1.9M412.0,170.30h1.9M718.0,170.30h-1.9M412.0,159.72h1.9M718.0,159.72h-1.9M412.0,149.14h1.9M718.0,149.14h-1.9M412.0,138.56h1.9M718.0,138.56h-1.9M412.0,127.98h1.9M718.0,127.98h-1.9M412.0,117.40h1.9M718.0,117.40h-1.9M412.0,106.82h1.9M718.0,106.82h-1.9M412.0,96.24h1.9M718.0,96.24h-1.9M412.0,85.66h1.9M718.0,85.66h-1.9M412.0,75.08h1.9M718.0,75.08h-1.9M412.0,64.50h1.9M718.0,64.50h-1.9M412.0,53.92h1.9M718.0,53.92h-1.9M412.0,43.34h1.9M718.0,43.34h-1.9M412.0,32.76h1.9M718.0,32.76h-1.9M412.0,22.18h1.9M718.0,22.18h-1.9" stroke="#2a2a2a" stroke-width="0.8" fill="none"/>
<text transform="translate(409.4,175.20)" font-size="15.3" stroke-width="0.0" text-anchor="end" fill="#000" >0.85</text>
<text transform="translate(409.4,122.30)" font-size="15.3" stroke-width="0.0" text-anchor="end" fill="#000" >0.90</text>
<text transform="translate(409.4,69.40)" font-size="15.3" stroke-width="0.0" text-anchor="end" fill="#000" >0.95</text>
<text transform="translate(409.4,17.60)" font-size="15.3" stroke-width="0.0" text-anchor="end" fill="#000" >1.00</text>
<text transform="translate(437.30,216.8)" font-size="15.3" stroke-width="0.0" text-anchor="middle" fill="#000" >−0.02</text>
<text transform="translate(476.50,216.8)" font-size="15.3" stroke-width="0.0" text-anchor="middle" fill="#000" >−0.01</text>
<text transform="translate(515.90,216.8)" font-size="15.3" stroke-width="0.0" text-anchor="middle" fill="#000" >0.00</text>
<text transform="translate(555.10,216.8)" font-size="15.3" stroke-width="0.0" text-anchor="middle" fill="#000" >0.01</text>
<text transform="translate(594.30,216.8)" font-size="15.3" stroke-width="0.0" text-anchor="middle" fill="#000" >0.02</text>
<text transform="translate(633.50,216.8)" font-size="15.3" stroke-width="0.0" text-anchor="middle" fill="#000" >0.03</text>
<text transform="translate(672.70,216.8)" font-size="15.3" stroke-width="0.0" text-anchor="middle" fill="#000" >0.04</text>
<text transform="translate(711.90,216.8)" font-size="15.3" stroke-width="0.0" text-anchor="middle" fill="#000" >0.05</text>
<text transform="translate(361.3,17.7)" font-size="16.4" stroke-width="0.0" text-anchor="start" fill="#000" >(b)</text>
<text transform="translate(551.6,238.2) scale(1.07,1)" font-size="17" stroke-width="0.0" text-anchor="start" font-style="italic" fill="#000" >J′<tspan font-style="normal">/</tspan>J</text>
<text transform="translate(376,121.3) rotate(-90) scale(1.05,1)" font-size="17" stroke-width="0.0" text-anchor="start" font-style="italic" fill="#000" >J<tspan font-size="12" dy="2.6">x</tspan><tspan dy="-2.6" font-style="normal">/</tspan>J</text>
<text x="739.9" y="51.8" font-size="9.6" stroke-width="0.0" textLength="59.7" lengthAdjust="spacingAndGlyphs">Region in which</text>
<rect x="731.9" y="61.9" width="3.1" height="2.9" fill="#f838f8"/>
<text x="739.9" y="66.0" font-size="9.6" stroke-width="0.0" textLength="23.5" lengthAdjust="spacingAndGlyphs"><tspan font-style="italic">N</tspan><tspan font-size="8.4" dy="1.8">QS</tspan><tspan dy="-1.8">=2</tspan></text>
<rect x="770.6" y="61.7" width="3.1" height="2.9" fill="#a850b8"/>
<text x="778.6" y="66.0" font-size="9.6" stroke-width="0.0" textLength="27.4" lengthAdjust="spacingAndGlyphs"><tspan font-style="italic">N</tspan><tspan font-size="8.4" dy="1.8">QS</tspan><tspan dy="-1.8">=10</tspan></text>
<rect x="731.9" y="73.8" width="3.1" height="2.9" fill="#38e4e4"/>
<text x="739.9" y="77.9" font-size="9.6" stroke-width="0.0" textLength="23.5" lengthAdjust="spacingAndGlyphs"><tspan font-style="italic">N</tspan><tspan font-size="8.4" dy="1.8">QS</tspan><tspan dy="-1.8">=4</tspan></text>
<rect x="770.6" y="73.6" width="3.1" height="2.9" fill="#f01010"/>
<text x="778.6" y="77.9" font-size="9.6" stroke-width="0.0" textLength="27.4" lengthAdjust="spacingAndGlyphs"><tspan font-style="italic">N</tspan><tspan font-size="8.4" dy="1.8">QS</tspan><tspan dy="-1.8">=12</tspan></text>
<rect x="731.9" y="85.5" width="3.1" height="2.9" fill="#ec8c8c"/>
<text x="739.9" y="89.6" font-size="9.6" stroke-width="0.0" textLength="23.5" lengthAdjust="spacingAndGlyphs"><tspan font-style="italic">N</tspan><tspan font-size="8.4" dy="1.8">QS</tspan><tspan dy="-1.8">=6</tspan></text>
<rect x="770.6" y="85.3" width="3.1" height="2.9" fill="#109410"/>
<text x="778.6" y="89.6" font-size="9.6" stroke-width="0.0" textLength="27.4" lengthAdjust="spacingAndGlyphs"><tspan font-style="italic">N</tspan><tspan font-size="8.4" dy="1.8">QS</tspan><tspan dy="-1.8">=14</tspan></text>
<rect x="731.9" y="97.2" width="3.1" height="2.9" fill="#f08018"/>
<text x="739.9" y="101.3" font-size="9.6" stroke-width="0.0" textLength="23.5" lengthAdjust="spacingAndGlyphs"><tspan font-style="italic">N</tspan><tspan font-size="8.4" dy="1.8">QS</tspan><tspan dy="-1.8">=8</tspan></text>
<rect x="770.6" y="97.0" width="3.1" height="2.9" fill="#1010f0"/>
<text x="778.6" y="101.3" font-size="9.6" stroke-width="0.0" textLength="27.4" lengthAdjust="spacingAndGlyphs"><tspan font-style="italic">N</tspan><tspan font-size="8.4" dy="1.8">QS</tspan><tspan dy="-1.8">=16</tspan></text>
<line x1="726.5" x2="733.2" y1="111.8" y2="111.8" stroke="#000" stroke-width="1.5"/><path d="M728.4,111.8h3l-1.5,2.2z" fill="#000"/>
<text x="738.3" y="114.6" font-size="9.6" stroke-width="0.0" textLength="74.0" lengthAdjust="spacingAndGlyphs">First order critical line</text>
<text x="726.5" y="135.5" font-size="9.6" stroke-width="0.0" textLength="96.8" lengthAdjust="spacingAndGlyphs">Cross line between plateau</text>
<line x1="726.5" x2="733" y1="147.3" y2="147.3" stroke="#f670f6" stroke-width="1.2"/><circle cx="729.8" cy="147.3" r="1.4" fill="#f670f6"/>
<text x="738" y="149.4" font-size="9.6" stroke-width="0.0" textLength="33.9" lengthAdjust="spacingAndGlyphs"><tspan font-style="italic">N</tspan><tspan font-size="8.4" dy="1.8">QS</tspan><tspan dy="-1.8">= 0,2</tspan></text>
<line x1="771.9" x2="778" y1="147.3" y2="147.3" stroke="#b468c4" stroke-width="1.2"/><circle cx="775" cy="147.3" r="1.4" fill="#b468c4"/>
<text x="782.5" y="149.4" font-size="9.6" stroke-width="0.0" textLength="39.1" lengthAdjust="spacingAndGlyphs"><tspan font-style="italic">N</tspan><tspan font-size="8.4" dy="1.8">QS</tspan><tspan dy="-1.8">= 8,10</tspan></text>
<line x1="726.5" x2="733" y1="161.4" y2="161.4" stroke="#60eeee" stroke-width="1.2"/><circle cx="729.8" cy="161.4" r="1.4" fill="#60eeee"/>
<text x="738" y="163.5" font-size="9.6" stroke-width="0.0" textLength="33.9" lengthAdjust="spacingAndGlyphs"><tspan font-style="italic">N</tspan><tspan font-size="8.4" dy="1.8">QS</tspan><tspan dy="-1.8">= 2,4</tspan></text>
<line x1="771.9" x2="778" y1="161.4" y2="161.4" stroke="#f01010" stroke-width="1.2"/><circle cx="775" cy="161.4" r="1.4" fill="#f01010"/>
<text x="782.5" y="163.5" font-size="9.6" stroke-width="0.0" textLength="43.7" lengthAdjust="spacingAndGlyphs"><tspan font-style="italic">N</tspan><tspan font-size="8.4" dy="1.8">QS</tspan><tspan dy="-1.8">= 10,12</tspan></text>
<line x1="726.5" x2="733" y1="175.3" y2="175.3" stroke="#f6b0b0" stroke-width="1.2"/><circle cx="729.8" cy="175.3" r="1.4" fill="#f6b0b0"/>
<text x="738" y="177.4" font-size="9.6" stroke-width="0.0" textLength="33.9" lengthAdjust="spacingAndGlyphs"><tspan font-style="italic">N</tspan><tspan font-size="8.4" dy="1.8">QS</tspan><tspan dy="-1.8">= 4,6</tspan></text>
<line x1="771.9" x2="778" y1="175.3" y2="175.3" stroke="#109410" stroke-width="1.2"/><circle cx="775" cy="175.3" r="1.4" fill="#109410"/>
<text x="782.5" y="177.4" font-size="9.6" stroke-width="0.0" textLength="43.7" lengthAdjust="spacingAndGlyphs"><tspan font-style="italic">N</tspan><tspan font-size="8.4" dy="1.8">QS</tspan><tspan dy="-1.8">= 12,14</tspan></text>
<line x1="726.5" x2="733" y1="189.1" y2="189.1" stroke="#f69838" stroke-width="1.2"/><circle cx="729.8" cy="189.1" r="1.4" fill="#f69838"/>
<text x="738" y="191.2" font-size="9.6" stroke-width="0.0" textLength="33.9" lengthAdjust="spacingAndGlyphs"><tspan font-style="italic">N</tspan><tspan font-size="8.4" dy="1.8">QS</tspan><tspan dy="-1.8">= 6,8</tspan></text>
<line x1="771.9" x2="778" y1="189.1" y2="189.1" stroke="#1010f0" stroke-width="1.2"/><circle cx="775" cy="189.1" r="1.4" fill="#1010f0"/>
<text x="782.5" y="191.2" font-size="9.6" stroke-width="0.0" textLength="43.7" lengthAdjust="spacingAndGlyphs"><tspan font-style="italic">N</tspan><tspan font-size="8.4" dy="1.8">QS</tspan><tspan dy="-1.8">= 14,16</tspan></text>
</svg>
</body></html>
